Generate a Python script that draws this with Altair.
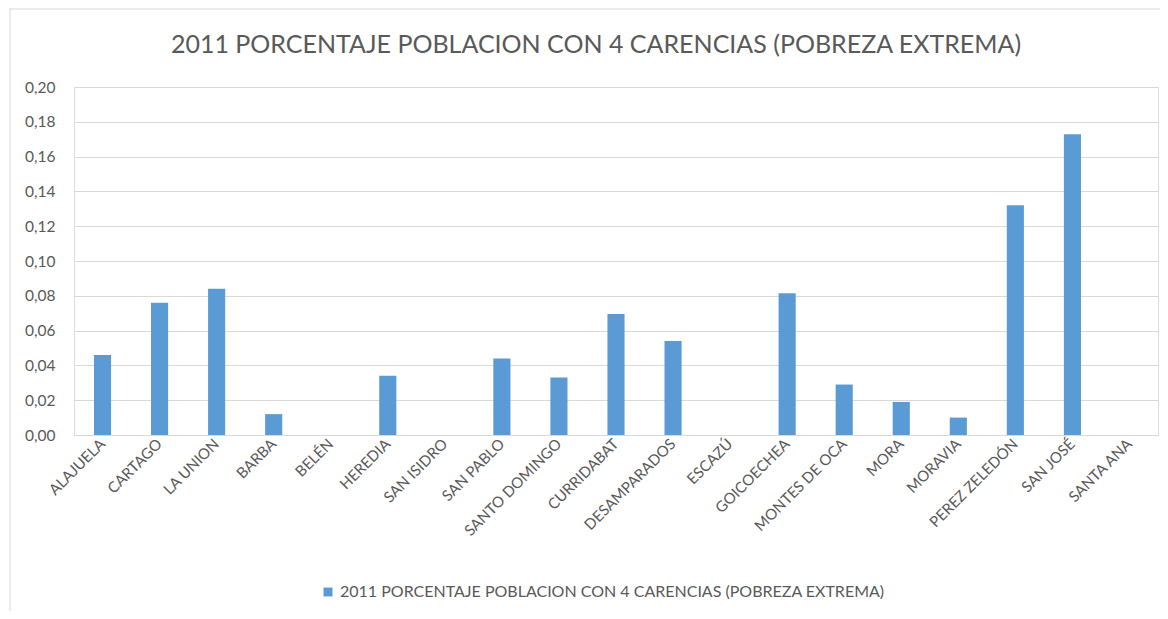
import altair as alt
import pandas as pd

categorias = ["ALAJUELA", "CARTAGO", "LA UNION", "BARBA", "BELÉN", "HEREDIA",
              "SAN ISIDRO", "SAN PABLO", "SANTO DOMINGO", "CURRIDABAT",
              "DESAMPARADOS", "ESCAZÚ", "GOICOECHEA", "MONTES DE OCA", "MORA",
              "MORAVIA", "PEREZ ZELEDÓN", "SAN JOSÉ", "SANTA ANA"]
valores = [0.046, 0.076, 0.084, 0.012, 0.0, 0.034,
           0.0, 0.044, 0.033, 0.0695,
           0.054, 0.0, 0.0815, 0.029, 0.019,
           0.010, 0.132, 0.1728, 0.0]
serie = "2011 PORCENTAJE POBLACION CON 4 CARENCIAS (POBREZA EXTREMA)"
titulo = "2011 PORCENTAJE POBLACION CON 4 CARENCIAS (POBREZA EXTREMA)"
y_ticks = [0.0, 0.02, 0.04, 0.06, 0.08, 0.10, 0.12, 0.14, 0.16, 0.18, 0.20]

df = pd.DataFrame({"cat": categorias, "val": valores, "serie": serie})
df_title = pd.DataFrame({"t": [titulo]})

FONT = "Lato"
GRAY = "#595959"

bars = alt.Chart(df).mark_bar(color="#5B9BD5").encode(
    x=alt.X("cat:N", sort=categorias, title=None,
            scale=alt.Scale(paddingInner=0.7, paddingOuter=0.35),
            axis=alt.Axis(labelAngle=-45, labelAlign="right", labelBaseline="middle",
                          labelFontSize=15, labelColor=GRAY, labelFont=FONT,
                          ticks=False, domainColor="#d9d9d9", labelPadding=6)),
    y=alt.Y("val:Q", title=None,
            scale=alt.Scale(domain=[0, 0.2], nice=False),
            axis=alt.Axis(values=y_ticks, domain=False, ticks=False,
                          labelExpr="replace(format(datum.value, '.2f'), '.', ',')",
                          labelFontSize=15.5, labelColor=GRAY, labelFont=FONT,
                          gridColor="#d9d9d9", labelPadding=19)),
    color=alt.Color("serie:N", scale=alt.Scale(range=["#5B9BD5"]), title=None,
                    legend=alt.Legend(orient="none", legendX=246, legendY=497,
                                      symbolType="square", symbolSize=80,
                                      labelFontSize=16, labelColor=GRAY, labelFont=FONT,
                                      labelLimit=800)),
)

title_text = alt.Chart(df_title).mark_text(
    font=FONT, fontSize=25, color=GRAY, align="center", baseline="middle"
).encode(text="t:N", x=alt.value(522), y=alt.value(-42))

frame_left = alt.Chart(df_title).mark_rule(color="#d9d9d9", strokeWidth=1).encode(
    x=alt.value(-64), y=alt.value(-79), y2=alt.value(540))
frame_top = alt.Chart(df_title).mark_rule(color="#d9d9d9", strokeWidth=1).encode(
    x=alt.value(-64), x2=alt.value(1100), y=alt.value(-78))

chart = alt.layer(bars, title_text, frame_left, frame_top).properties(
    width=1084, height=348,
    autosize=alt.AutoSizeParams(type="none"),
    padding={"left": 66, "top": 79, "right": 2, "bottom": 176},
).configure_view(stroke=None).configure(background="white")

chart.save("out.html", embed_options={"renderer": "svg", "actions": False})
